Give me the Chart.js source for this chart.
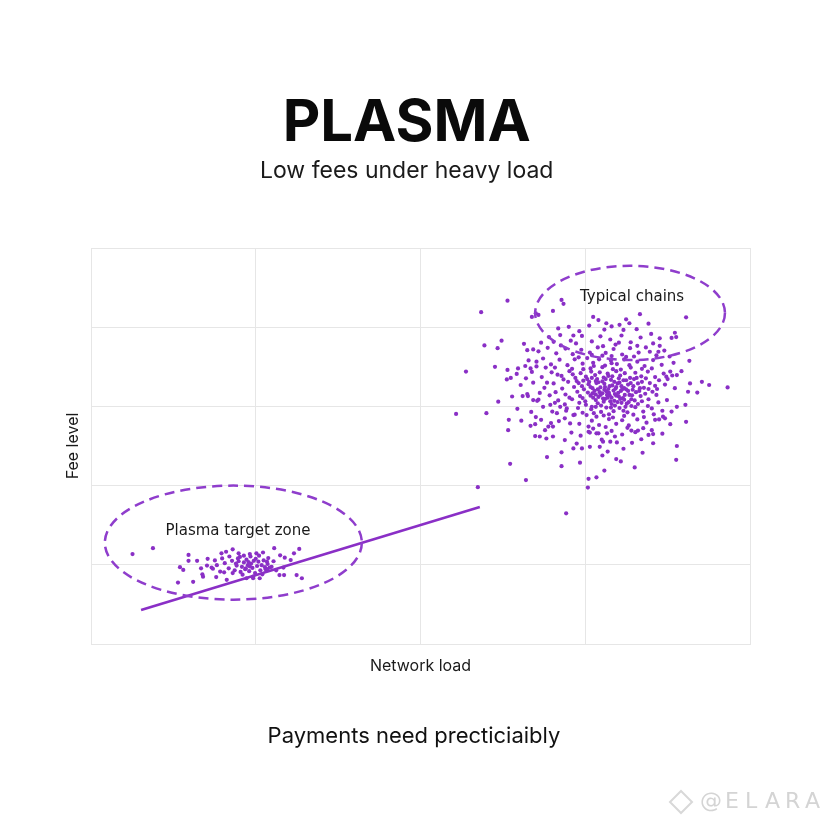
<!DOCTYPE html>
<html><head><meta charset="utf-8">
<script src="https://cdn.jsdelivr.net/npm/chart.js@4.4.1/dist/chart.umd.min.js"></script>
<style>html,body{margin:0;padding:0;background:#fff;}canvas{display:block;}</style>
</head><body>
<canvas id="c" width="828" height="828"></canvas>
<script>
// ---- text ----
const chartTitle = 'PLASMA';
const chartSubtitle = 'Low fees under heavy load';
const xAxisTitle = 'Network load';
const yAxisTitle = 'Fee level';
const footerText = 'Payments need precticiaibly';
const watermarkText = '@ELARA';

// ---- axis ranges (ticks hidden) ----
const xRange = [0, 100, 25];
const yRange = [0, 100, 20];

// ---- trend line (load, fee) ----
const trendLoad = [7.6, 59.0];
const trendFee = [8.6, 34.6];

// ---- highlighted zones: centre, radii, label position ----
const zoneNames = ['Plasma target zone', 'Typical chains'];
const zoneCenters = [[21.6, 25.6], [81.8, 83.6]];
const zoneRadii = [[19.5, 14.4], [14.4, 11.9]];
const zoneLabelAt = [[22.3, 28.5], [82.1, 87.6]];

// ---- Plasma cluster [load, fee] ----
const plasmaPoints = [
[6.3,22.7],[9.4,24.2],[14.8,22.5],[13.5,19.4],[14.0,18.7],[14.8,21.0],[16.1,21.0],[17.7,21.5],[16.7,19.1],[16.9,17.6],
[17.0,17.0],[13.2,15.5],[15.5,15.7],[18.3,19.3],[19.1,19.9],[19.6,18.3],[20.6,16.2],[19.8,22.9],[21.5,23.9],[22.4,22.9],
[23.2,22.3],[24.1,22.7],[25.1,22.9],[26.1,23.1],[27.8,24.2],[31.6,24.0],[29.4,21.8],[30.3,21.2],[29.2,19.3],[28.6,17.4],
[29.3,17.4],[31.2,17.4],[32.0,16.6],[26.7,18.9],[27.4,19.5],[26.7,20.8],[24.6,16.6],[25.6,16.6],[23.6,16.6],
[20.3,20.4],[20.9,19.1],[21.4,21.0],[21.8,18.6],[22.1,19.8],[22.4,20.9],[22.7,18.2],[22.9,19.5],[23.2,20.6],[23.4,18.9],
[23.6,21.3],[23.8,19.9],[24.0,18.4],[24.3,20.3],[24.5,19.2],[24.7,21.0],[24.9,17.9],[25.2,19.7],[25.4,20.8],[25.7,18.6],
[25.9,19.9],[26.2,21.1],[26.5,18.9],[26.8,20.2],[27.1,19.3],[21.0,22.1],[22.6,22.0],[24.2,22.1],[25.5,22.3],[26.9,21.7],
[23.0,17.5],[24.6,17.0],[26.0,17.6],[21.5,17.9],[19.9,21.6],[20.2,18.1],[27.7,20.9],[28.1,18.6],[23.9,20.7],[22.3,21.6],
[25.0,21.5],[24.1,19.6],[23.5,19.1],[22.0,20.3],[26.4,19.4],[18.8,21.1],[18.5,19.0],[17.6,19.8],[28.7,22.4],[30.8,22.9],
[20.5,23.3],[19.0,16.9]
];

// ---- Typical chains cluster [load, fee] ----
const typicalPoints = [
[63.2,86.7],[59.2,83.8],[56.9,68.8],[59.7,75.4],[62.3,76.6],[61.7,74.7],[61.3,70.0],[63.2,69.2],[63.7,67.2],[63.1,66.8],
[64.8,69.6],[65.7,75.8],[66.2,74.2],[67.1,74.4],[65.9,70.2],[66.7,69.6],[67.6,71.3],[70.1,84.1],[66.9,82.6],[67.5,83.5],
[67.9,83.1],[71.4,86.9],[71.7,85.9],
[61.8,61.2],[55.4,58.1],[60.0,58.3],[63.4,56.6],[63.3,54.0],[63.6,45.5],[66.0,41.4],[58.7,39.6],[72.1,33.0],[71.4,44.9],
[71.4,48.4],[71.9,51.5],[73.2,49.4],[74.5,49.4],[75.7,49.8],[75.5,41.7],[76.7,42.1],[75.4,39.5],
[66.7,55.1],[67.4,55.5],[68.3,56.6],[68.9,54.0],[69.1,51.9],[67.4,52.5],[68.1,52.4],[70.1,52.4],[69.4,54.9],[70.1,54.9],
[65.5,62.6],[66.3,62.6],[67.1,61.6],[67.7,61.4],[68.6,59.9],[69.7,60.4],[71.2,59.9],[70.7,58.3],[72.2,59.5],[71.9,57.0],
[72.7,55.7],[73.2,57.8],[75.5,54.9],[75.5,53.6],[76.7,53.2],[75.2,57.8],[76.0,59.9],[76.7,57.4],
[96.6,64.8],[93.8,65.4],[90.9,65.8],[92.0,63.5],[90.6,63.7],[92.7,66.2],[90.2,60.4],[90.3,56.1],[88.9,50.0],[88.8,46.5],
[85.3,50.7],[83.7,48.3],[79.7,46.7],[80.4,46.1],[77.6,47.6],[87.9,55.5],[88.1,58.7],[86.8,57.4],[86.2,56.7],
[83.5,51.7],[84.6,52.8],[85.1,54.0],[85.3,53.0],[83.8,54.5],[83.0,53.9],[82.0,53.9],[77.2,49.8],[77.7,51.1],[78.8,51.1],
[79.5,52.4],[78.3,53.2],[77.0,53.2],
[90.3,82.5],[83.3,83.3],[88.6,78.6],[88.1,77.3],[88.8,77.5],[90.8,71.5],[86.3,77.2],[86.3,75.3],[85.3,75.9],[84.8,73.8],
[86.1,73.8],[81.2,82.0],[81.7,81.0],[82.8,79.5],[80.8,79.3],[76.2,82.6],[77.0,81.8],[78.2,81.0],[79.0,80.2],
[87.9,68.8],[88.9,67.9],[87.3,67.5],
[72.5,80.1],[74.1,79.0],[75.6,80.4],[77.9,79.4],[80.2,80.6],[84.6,80.9],[70.9,79.7],
[69.5,77.5],[71.2,78.0],[72.8,76.6],[74.5,77.8],[76.0,76.4],[77.3,77.7],[78.8,76.9],[80.5,77.9],[81.9,76.2],[83.4,77.4],
[85.0,78.3],[68.3,76.1],[73.6,75.9],[79.6,75.6],
[67.9,73.9],[69.3,74.8],[70.6,73.4],[72.0,74.6],[73.1,73.2],[74.4,74.3],[75.7,73.6],[76.9,74.9],[78.1,73.5],[79.3,74.5],
[80.6,73.1],[81.8,74.7],[83.1,73.6],[84.2,74.9],[87.0,74.1],[71.3,75.4],[77.6,72.8],[82.4,72.6],
[66.4,71.6],[68.6,72.1],[69.8,70.6],[71.1,71.8],[72.3,70.4],[73.4,71.9],[74.6,70.8],[75.3,72.2],[76.2,71.0],[77.1,71.9],
[78.0,70.3],[78.9,71.6],[79.8,70.7],[80.9,71.9],[81.7,70.4],[82.9,71.3],[84.0,70.2],[85.3,71.7],[86.6,70.5],[88.4,71.0],
[70.4,69.8],[75.8,69.6],[79.2,69.4],[83.6,69.5],
[64.6,68.2],[66.9,68.7],[68.4,67.4],[69.9,68.6],[71.4,67.7],[72.6,68.9],[73.5,67.2],[74.3,68.4],[75.1,67.5],[75.9,68.8],
[76.5,67.9],[77.2,68.6],[77.8,67.3],[78.4,68.3],[79.1,67.6],[79.7,68.9],[80.3,67.8],[81.0,68.4],[81.8,67.2],[82.6,68.5],
[83.5,67.6],[84.5,68.8],[85.6,67.4],[86.9,68.3],[88.2,67.8],[89.6,68.9],[76.8,66.9],[78.9,66.7],[80.8,66.6],[74.7,66.5],
[82.4,66.9],
[65.2,65.4],[67.1,66.0],[68.8,64.7],[70.2,65.8],[71.5,64.5],[72.4,66.2],[73.3,64.9],[74.0,65.9],[74.8,64.3],[75.5,65.6],
[76.1,64.6],[76.7,65.9],[77.3,64.8],[77.9,65.7],[78.5,64.4],[79.1,65.3],[79.7,64.9],[80.2,66.0],[80.9,64.6],[81.5,65.5],
[82.2,64.2],[83.0,65.8],[83.9,64.7],[84.8,65.9],[85.9,64.4],[87.1,65.5],[88.6,64.6],[76.4,63.9],[78.2,63.8],[80.4,63.9],
[73.8,63.7],[82.7,63.6],[77.6,66.3],[79.4,66.2],
[63.9,62.5],[66.2,63.1],[67.9,61.7],[69.6,62.8],[70.9,61.5],[72.0,63.0],[73.0,61.8],[74.2,62.6],[75.0,61.3],[75.8,62.7],
[76.6,61.6],[77.3,62.9],[78.0,61.9],[78.7,62.8],[79.4,61.4],[80.1,62.5],[80.9,61.7],[81.7,62.9],[82.5,61.5],[83.4,62.6],
[84.6,61.8],[85.8,62.9],[87.4,61.6],[76.9,60.8],[79.0,60.6],[81.3,60.7],
[64.7,59.4],[66.8,58.6],[70.0,58.7],[72.1,58.9],[73.9,59.6],[74.6,58.4],[75.9,59.3],[77.4,58.6],[78.2,59.7],[79.3,58.8],
[80.2,59.6],[81.4,58.5],[82.6,59.8],[83.8,58.7],[85.1,59.5],[86.7,58.9],[88.9,59.9],[77.8,57.7],[80.9,57.6],
[65.3,56.4],[67.5,57.3],[69.8,55.8],[71.0,56.3],[74.1,55.6],[76.0,56.4],[77.1,55.3],[78.6,56.8],[79.7,55.6],[80.6,56.5],
[81.6,55.2],[82.9,56.7],[84.3,55.9],[85.6,56.6],
[72.9,53.4],[74.3,52.6],[76.2,54.4],[79.0,53.8],[80.6,52.9],[81.4,54.6],[86.7,53.1],
[73.7,50.6],[80.8,49.3],[82.1,50.8],[78.4,48.6],[74.2,45.8],[82.5,44.6],[77.9,43.8],[69.2,47.2],
[74.7,69.4],[76.3,70.2],[77.6,69.9],[79.0,70.9],[80.4,69.3],[81.9,69.8],[73.0,69.5],[75.3,66.9],[76.0,67.2],[77.0,66.1],
[78.1,66.9],[78.7,65.1],[79.9,65.8],[80.5,65.1],[81.2,66.6],[81.9,65.9],[82.8,67.2],[83.6,66.2],[84.2,67.1],[73.7,66.4],
[74.5,65.1],[75.8,64.9],[76.9,64.3],[77.6,63.3],[78.4,62.2],[79.5,63.1],[80.7,62.1],[81.5,63.9],[82.1,62.8],[83.2,63.9],
[84.1,63.2],[85.2,63.7],[75.4,63.5],[74.6,62.1],[76.2,62.2],[77.8,61.2],[79.9,61.1],[81.1,59.9],[78.9,59.7],[76.6,59.9],
[75.1,60.4],[83.0,60.6],[84.5,60.1],[86.1,61.0],[72.6,62.2],[71.7,66.8],[70.8,68.0],[73.1,68.1],[86.2,66.6],[87.5,66.9],
[85.1,69.6],[76.0,73.0],[79.0,72.7],[81.2,72.5],[74.0,72.4],[77.7,75.2],[80.1,76.1],[73.2,77.9],[70.2,76.3],[82.9,75.3],
[85.8,72.9],[87.8,72.6],[69.0,69.8],[67.6,70.1],[66.0,67.1],[68.1,63.4],[70.5,63.6],[69.2,66.0],[71.9,60.5],[73.4,57.9],
[70.4,60.9],[83.9,57.3],[85.4,58.0],[87.1,57.0],[78.1,54.8],[75.7,53.4],[82.6,53.5],[77.5,51.6],[79.8,50.9],
[77.2,63.6],[77.9,64.2],[78.6,63.4],[79.3,64.0],[80.0,63.4],[80.6,64.3],[77.0,62.4],[77.7,62.0],[78.3,62.9],[79.0,62.2],
[79.7,62.7],[80.3,61.9],[81.0,62.9],[76.6,63.0],[78.0,64.9],[79.6,64.5],[81.2,64.3],[78.8,61.3],[80.5,60.9],[77.4,60.2],
[79.5,60.2],[82.0,61.8],[81.6,61.1],[76.1,63.3],[82.3,65.1],[83.3,64.6],[80.1,67.1],[78.5,67.7],[76.6,66.4],[82.0,60.1],
[83.6,61.3],[80.8,58.9],[78.6,58.0],[76.3,58.3],[84.6,64.4],[85.6,65.2],[79.2,57.2],[82.3,57.9],[75.6,66.2],[74.1,60.9]
];

const PURPLE = '#8a2fc6';
const FONT = "Inter, 'Open Sans', 'Liberation Sans', sans-serif";

const toXY = arr => arr.map(p => ({x: p[0], y: p[1]}));

const overlay = {
  id: 'overlay',
  afterDatasetsDraw(chart) {
    const {ctx, scales: {x, y}} = chart;
    ctx.save();
    zoneNames.forEach((name, i) => {
      const cx = x.getPixelForValue(zoneCenters[i][0]);
      const cy = y.getPixelForValue(zoneCenters[i][1]);
      const rx = Math.abs(x.getPixelForValue(zoneCenters[i][0] + zoneRadii[i][0]) - cx);
      const ry = Math.abs(y.getPixelForValue(zoneCenters[i][1] + zoneRadii[i][1]) - cy);
      ctx.beginPath();
      ctx.setLineDash([10, 6]);
      ctx.lineWidth = 2.5;
      ctx.strokeStyle = '#8f3dcc';
      ctx.ellipse(cx, cy, rx, ry, 0, 0, Math.PI * 2);
      ctx.stroke();
      ctx.setLineDash([]);
      ctx.fillStyle = '#1a1a1a';
      ctx.font = "15px 'DejaVu Sans', sans-serif";
      ctx.textAlign = 'center';
      ctx.textBaseline = 'middle';
      ctx.fillText(name, x.getPixelForValue(zoneLabelAt[i][0]), y.getPixelForValue(zoneLabelAt[i][1]));
    });
    ctx.restore();
  },
  afterDraw(chart) {
    const {ctx} = chart;
    ctx.save();
    ctx.fillStyle = '#111';
    ctx.font = '22px ' + FONT;
    ctx.textAlign = 'center';
    ctx.textBaseline = 'middle';
    ctx.fillText(footerText, 414, 736);
    // watermark
    ctx.fillStyle = '#d4d4d4';
    ctx.font = "22px 'DejaVu Sans', sans-serif";
    let wx = 700;
    for (const ch of watermarkText) {
      ctx.textAlign = 'left';
      ctx.fillText(ch, wx, 802);
      wx += ch === '@' ? 25 : 20;
    }
    // small diamond logo
    ctx.strokeStyle = '#d8d8d8';
    ctx.lineWidth = 2;
    ctx.beginPath();
    ctx.moveTo(681, 791); ctx.lineTo(692, 802); ctx.lineTo(681, 813); ctx.lineTo(670, 802); ctx.closePath();
    ctx.stroke();
    ctx.restore();
  }
};

new Chart(document.getElementById('c'), {
  type: 'scatter',
  data: {
    datasets: [
      {
        label: 'Trend',
        type: 'line',
        data: trendLoad.map((v, i) => ({x: v, y: trendFee[i]})),
        borderColor: '#8a2fc6',
        borderWidth: 2.6,
        pointRadius: 0,
        fill: false
      },
      {
        label: 'Plasma',
        data: toXY(plasmaPoints),
        backgroundColor: PURPLE,
        borderWidth: 0,
        pointRadius: 2.1
      },
      {
        label: 'Typical chains',
        data: toXY(typicalPoints),
        backgroundColor: PURPLE,
        borderWidth: 0,
        pointRadius: 2.1
      }
    ]
  },
  options: {
    responsive: false,
    animation: false,
    devicePixelRatio: 1,
    layout: {padding: {top: 0, left: 63.4, right: 78, bottom: 152.4}},
    plugins: {
      legend: {display: false},
      tooltip: {enabled: false},
      title: {
        display: true, text: chartTitle, color: '#0a0a0a',
        font: {family: FONT, size: 58, weight: 'bold', lineHeight: 1.0},
        padding: {top: 95, bottom: 0}
      },
      subtitle: {
        display: true, text: chartSubtitle, color: '#1a1a1a',
        font: {family: FONT, size: 23, weight: 'normal', lineHeight: 1.2},
        padding: {top: 4, bottom: 63.4}
      }
    },
    scales: {
      x: {
        type: 'linear', min: xRange[0], max: xRange[1],
        ticks: {display: false, stepSize: xRange[2]},
        grid: {color: '#e6e6e6', lineWidth: 1, drawTicks: false},
        border: {color: '#e6e6e6'},
        title: {display: true, text: xAxisTitle, color: '#1a1a1a',
          font: {family: FONT, size: 16, lineHeight: 1.2}, padding: {top: 12.4, bottom: 0}}
      },
      y: {
        type: 'linear', min: yRange[0], max: yRange[1],
        ticks: {display: false, stepSize: yRange[2]},
        grid: {color: '#e6e6e6', lineWidth: 1, drawTicks: false},
        border: {color: '#e6e6e6'},
        title: {display: true, text: yAxisTitle, color: '#1a1a1a',
          font: {family: FONT, size: 16, lineHeight: 1.2}, padding: {top: 0, bottom: 8.4}}
      }
    }
  },
  plugins: [overlay]
});
</script>
</body></html>
